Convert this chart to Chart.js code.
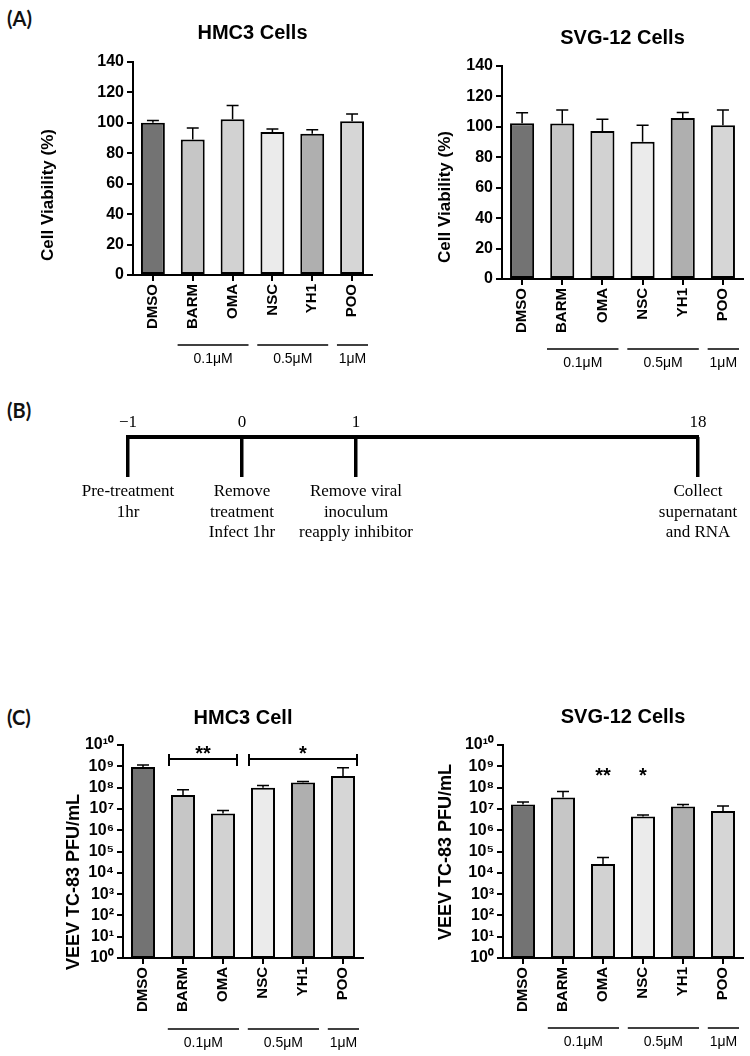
<!DOCTYPE html>
<html>
<head>
<meta charset="utf-8">
<title>Cell viability and VEEV titers</title>
<script src="https://cdn.jsdelivr.net/npm/chart.js@4.4.1/dist/chart.umd.min.js"></script>
<style>
    body { margin: 0; background: #fff; }
    #page { position: relative; width: 750px; height: 1056px; overflow: hidden; }
    canvas { position: absolute; }
    .tag { position: absolute; left: 7px; font: bold 20px Lato, "Open Sans", sans-serif; color: #111; }
</style>
</head>
<body>
<div id="page">
    <div class="tag" style="top:6px">(A)</div>
    <div class="tag" style="top:398px">(B)</div>
    <div class="tag" style="top:705px">(C)</div>
    <canvas id="hmc3Viab" width="375" height="376" style="left:0;top:0"></canvas>
    <canvas id="svgViab" width="375" height="376" style="left:375px;top:0"></canvas>
    <canvas id="timeline" width="750" height="170" style="left:0;top:390px"></canvas>
    <canvas id="hmc3Titer" width="375" height="396" style="left:0;top:660px"></canvas>
    <canvas id="svgTiter" width="375" height="396" style="left:375px;top:660px"></canvas>
</div>
<script>
var drugs = ['DMSO', 'BARM', 'OMA', 'NSC', 'YH1', 'POO'];
var barColors = ['#737373', '#c6c6c6', '#d2d2d2', '#ebebeb', '#afafaf', '#d6d6d6'];

// (A) cell viability, mean and top of the error bar
var hmc3Viability = [100, 89, 102.4, 94, 92.8, 101];
var hmc3ViabilityErr = [101.5, 96.7, 111.4, 95.9, 95.4, 105.9];
var svgViability = [102.4, 102.2, 97.2, 90.2, 105.9, 101];
var svgViabilityErr = [109.2, 111, 105, 101, 109.4, 111];
var viabilityTicks = [0, 20, 40, 60, 80, 100, 120, 140];

// (C) VEEV TC-83 titers (PFU/mL)
var hmc3Titer = [9.3e8, 4.5e7, 6.1e6, 9.8e7, 1.75e8, 3.5e8];
var hmc3TiterErr = [1.15e9, 8e7, 8.5e6, 1.26e8, 1.95e8, 8.5e8];
var svgTiter = [1.6e7, 3.4e7, 2.6e4, 4.4e6, 1.3e7, 8e6];
var svgTiterErr = [2.1e7, 6.5e7, 5.2e4, 5.2e6, 1.6e7, 1.35e7];
var titerExponents = [0, 1, 2, 3, 4, 5, 6, 7, 8, 9, 10];

var doseGroups = [
    { label: '0.1\u03bcM', from: 1, to: 2 },
    { label: '0.5\u03bcM', from: 3, to: 4 },
    { label: '1\u03bcM', from: 5, to: 5 }
];
var hmc3Sig = [{ from: 1, to: 2, mark: '**' }, { from: 3, to: 5, mark: '*' }];
var svgSig = [{ at: 2, mark: '**' }, { at: 3, mark: '*' }];

// (B) timeline, empty slots stand for the break between 1 and 18 h
var timePoints = ['\u22121', '0', '1', '', '', '18'];
var timeSteps = [
    ['Pre-treatment', '1hr'],
    ['Remove', 'treatment', 'Infect 1hr'],
    ['Remove viral', 'inoculum', 'reapply inhibitor'],
    '', '',
    ['Collect', 'supernatant', 'and RNA']
];

var SANS = '"Liberation Sans", Arial, sans-serif';
var supDigits = ['\u2070', '\u00b9', '\u00b2', '\u00b3', '\u2074', '\u2075', '\u2076', '\u2077', '\u2078', '\u2079'];
function sup(n) {
    return String(n).split('').map(function (d) { return supDigits[+d]; }).join('');
}

// titles, error bars, dose groups and significance marks
// (settings hang on the canvas so chart.js does not proxy them)
var extras = {
    id: 'extras',
    afterDraw: function (chart) {
        var o = chart.canvas.extras;
        var ctx = chart.ctx, area = chart.chartArea;
        var xs = chart.scales.x, ys = chart.scales.y;
        var step = xs.getPixelForValue(1) - xs.getPixelForValue(0);
        ctx.save();
        ctx.fillStyle = '#000';
        ctx.strokeStyle = '#000';
        ctx.textAlign = 'center';
        ctx.textBaseline = 'middle';

        ctx.font = 'bold 20px ' + SANS;
        ctx.fillText(o.title, (area.left + area.right) / 2, o.titleY);

        ctx.save();
        ctx.translate(o.yTitleX, o.yTitleY);
        ctx.rotate(-Math.PI / 2);
        ctx.font = 'bold ' + o.yTitleSize + 'px ' + SANS;
        ctx.fillText(o.yTitle, 0, 0);
        ctx.restore();

        var meta = chart.getDatasetMeta(0);
        ctx.lineWidth = 1.5;
        meta.data.forEach(function (bar, i) {
            var top = ys.getPixelForValue(o.errors[i]);
            var cap = bar.width / 4;
            ctx.beginPath();
            ctx.moveTo(bar.x, bar.y);
            ctx.lineTo(bar.x, top);
            ctx.moveTo(bar.x - cap, top);
            ctx.lineTo(bar.x + cap, top);
            ctx.stroke();
        });

        ctx.font = '14px ' + SANS;
        doseGroups.forEach(function (g) {
            var x0 = xs.getPixelForValue(g.from) - step * 0.38;
            var x1 = xs.getPixelForValue(g.to) + step * 0.4;
            ctx.beginPath();
            ctx.moveTo(x0, o.groupY);
            ctx.lineTo(x1, o.groupY);
            ctx.stroke();
            ctx.fillText(g.label, (x0 + x1) / 2, o.groupY + 14);
        });

        if (o.sig) {
            ctx.font = 'bold 20px ' + SANS;
            ctx.textBaseline = 'alphabetic';
            ctx.lineWidth = 2;
            o.sig.forEach(function (s) {
                var x0, x1, ly;
                var starY = ys.getPixelForValue(o.starAt) + 11;
                if (typeof s.at === 'number') {
                    ctx.fillText(s.mark, xs.getPixelForValue(s.at), starY);
                    return;
                }
                x0 = xs.getPixelForValue(s.from) - step * 0.35;
                x1 = xs.getPixelForValue(s.to) + step * 0.35;
                ly = ys.getPixelForValue(o.bracketAt);
                ctx.beginPath();
                ctx.moveTo(x0, ly); ctx.lineTo(x1, ly);
                ctx.moveTo(x0, ly - 5); ctx.lineTo(x0, ly + 7);
                ctx.moveTo(x1, ly - 5); ctx.lineTo(x1, ly + 7);
                ctx.stroke();
                ctx.fillText(s.mark, (x0 + x1) / 2, starY);
            });
        }
        ctx.restore();
    }
};

function makeBarChart(canvasId, values, cfg) {
    var canvas = document.getElementById(canvasId);
    canvas.extras = cfg.extras;
    var yScale = {
        min: cfg.log ? 1 : 0,
        max: cfg.log ? 1e10 : 140,
        border: { color: '#000', width: 2 },
        grid: { drawOnChartArea: false, drawTicks: true, tickLength: 6, color: '#000', lineWidth: 2 },
        ticks: { color: '#000', padding: 3, autoSkip: false, font: { family: SANS, size: 16, weight: 'bold' } },
        afterFit: function (s) { s.width = cfg.area.left; }
    };
    if (cfg.log) {
        yScale.type = 'logarithmic';
        yScale.afterBuildTicks = function (s) {
            s.ticks = titerExponents.map(function (e) { return { value: Math.pow(10, e) }; });
        };
        yScale.ticks.callback = function (v) { return '10' + sup(Math.round(Math.log10(v))); };
    } else {
        yScale.afterBuildTicks = function (s) {
            s.ticks = viabilityTicks.map(function (v) { return { value: v }; });
        };
    }
    return new Chart(canvas, {
        type: 'bar',
        data: {
            labels: drugs,
            datasets: [{
                data: values,
                backgroundColor: barColors,
                borderColor: '#000',
                borderWidth: 2,
                borderSkipped: false,
                barPercentage: 0.6,
                categoryPercentage: 1
            }]
        },
        options: {
            responsive: false,
            animation: false,
            layout: { padding: { top: cfg.area.top, right: canvas.width - cfg.area.right, left: 0, bottom: 0 } },
            plugins: {
                legend: { display: false },
                tooltip: { enabled: false }
            },
            scales: {
                x: {
                    border: { color: '#000', width: 2 },
                    grid: { offset: false, drawOnChartArea: false, drawTicks: true, tickLength: 6, color: '#000', lineWidth: 2 },
                    ticks: { color: '#000', padding: 3, minRotation: 90, maxRotation: 90, autoSkip: false,
                             font: { family: SANS, size: 15, weight: 'bold' } },
                    afterFit: function (s) { s.height = canvas.height - cfg.area.bottom; }
                },
                y: yScale
            }
        },
        plugins: [extras]
    });
}

function makeTimeline() {
    var serif = { family: '"Liberation Serif", "Times New Roman", serif', size: 17, lineHeight: 1.18 };
    new Chart(document.getElementById('timeline'), {
        type: 'line',
        data: { labels: timePoints, datasets: [] },
        options: {
            responsive: false,
            animation: false,
            layout: { padding: { left: 128, right: 52, top: 0, bottom: 0 } },
            plugins: { legend: { display: false }, tooltip: { enabled: false } },
            scales: {
                xTop: {
                    type: 'category', position: 'top', labels: timePoints, offset: false,
                    border: { display: true, color: '#000', width: 4 },
                    grid: { display: false, drawTicks: false },
                    ticks: { color: '#000', padding: 4, minRotation: 0, maxRotation: 0, autoSkip: false, font: serif },
                    afterFit: function (s) { s.height = 47; }
                },
                x: {
                    type: 'category', position: 'bottom', labels: timeSteps, offset: false,
                    border: { display: false },
                    grid: {
                        offset: false, drawTicks: false, drawOnChartArea: true, lineWidth: 3.5,
                        color: function (c) { return timePoints[c.index] ? '#000' : 'rgba(0,0,0,0)'; }
                    },
                    ticks: { color: '#000', padding: 5, minRotation: 0, maxRotation: 0, autoSkip: false, font: serif },
                    afterFit: function (s) { s.height = 83; }
                },
                y: { display: false, min: 0, max: 1 }
            }
        }
    });
}

document.addEventListener('DOMContentLoaded', function () {
    makeBarChart('hmc3Viab', hmc3Viability, {
        area: { left: 133, right: 372, top: 62, bottom: 275 },
        extras: { title: 'HMC3 Cells', titleY: 33, yTitle: 'Cell Viability (%)', yTitleX: 48, yTitleY: 195, yTitleSize: 17,
                  errors: hmc3ViabilityErr, groupY: 345 }
    });
    makeBarChart('svgViab', svgViability, {
        area: { left: 127, right: 368, top: 66, bottom: 279 },
        extras: { title: 'SVG-12 Cells', titleY: 38, yTitle: 'Cell Viability (%)', yTitleX: 70, yTitleY: 197, yTitleSize: 17,
                  errors: svgViabilityErr, groupY: 349 }
    });
    makeTimeline();
    makeBarChart('hmc3Titer', hmc3Titer, {
        log: true,
        area: { left: 123, right: 363, top: 85, bottom: 298 },
        extras: { title: 'HMC3 Cell', titleY: 58, yTitle: 'VEEV TC-83 PFU/mL', yTitleX: 74, yTitleY: 222, yTitleSize: 18,
                  errors: hmc3TiterErr, groupY: 369, sig: hmc3Sig, bracketAt: 2.2e9, starAt: 6.5e9 }
    });
    makeBarChart('svgTiter', svgTiter, {
        log: true,
        area: { left: 128, right: 368, top: 85, bottom: 298 },
        extras: { title: 'SVG-12 Cells', titleY: 57, yTitle: 'VEEV TC-83 PFU/mL', yTitleX: 71, yTitleY: 192, yTitleSize: 18,
                  errors: svgTiterErr, groupY: 368, sig: svgSig, starAt: 6e8 }
    });
});
</script>
</body>
</html>
